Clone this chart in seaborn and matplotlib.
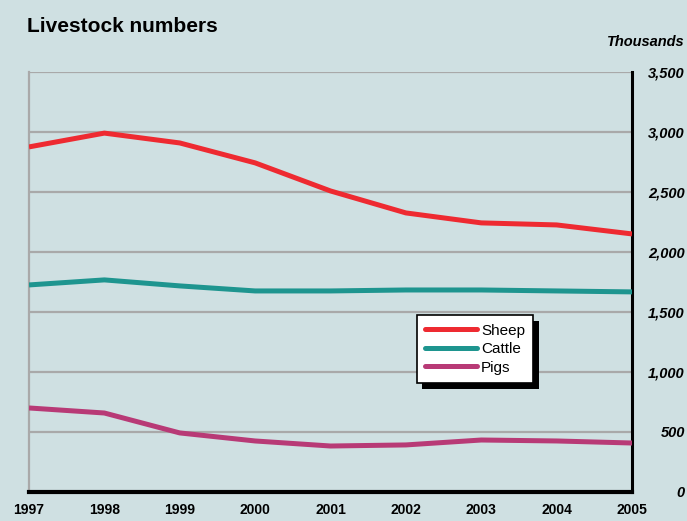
import matplotlib
matplotlib.use("Agg")
import matplotlib.pyplot as plt
import matplotlib.patheffects as pe
from matplotlib.lines import Line2D
import seaborn as sns
import pandas as pd

years = [1997, 1998, 1999, 2000, 2001, 2002, 2003, 2004, 2005]
sheep = [2875, 2990, 2908, 2742, 2508, 2325, 2242, 2225, 2150]
cattle = [1725, 1767, 1717, 1675, 1675, 1683, 1683, 1675, 1667]
pigs = [700, 658, 492, 425, 383, 392, 433, 425, 408]
series_names = ["Sheep", "Cattle", "Pigs"]
colors = ["#ee2a31", "#1e958f", "#b83a76"]
y_ticks = [0, 500, 1000, 1500, 2000, 2500, 3000, 3500]
y_labels = ["0", "500", "1,000", "1,500", "2,000", "2,500", "3,000", "3,500"]

bg = "#cfe0e2"
sns.set_theme(style="white")
plt.rcParams["font.family"] = ["Liberation Sans", "DejaVu Sans"]
plt.rcParams["text.color"] = "black"
plt.rcParams["xtick.color"] = "black"
plt.rcParams["ytick.color"] = "black"

df = pd.DataFrame({
    "year": years * 3,
    "value": sheep + cattle + pigs,
    "series": [s for s in series_names for _ in years],
})

fig = plt.figure(figsize=(6.87, 5.21), dpi=100, facecolor=bg)
ax = fig.add_axes([0.0422, 0.0557, 0.8778, 0.8063])
ax.set_facecolor(bg)

for y in y_ticks[1:]:
    ax.axhline(y, color="#a9a9a9", lw=1.6, zorder=1)

sns.lineplot(data=df, x="year", y="value", hue="series", hue_order=series_names,
             palette=colors, lw=3.6, ax=ax, legend=False, zorder=3,
             solid_capstyle="butt")

ax.set_xlim(1997, 2005)
ax.set_ylim(0, 3500)
ax.set_xlabel("")
ax.set_ylabel("")

ax.spines["top"].set_visible(False)
ax.spines["left"].set_color("#a9a9a9")
ax.spines["left"].set_linewidth(1.6)
ax.spines["right"].set_color("black")
ax.spines["right"].set_linewidth(2.2)
ax.spines["bottom"].set_color("black")
ax.spines["bottom"].set_linewidth(3.0)
ax.spines["bottom"].set_zorder(4)

ax.set_xticks(years)
ax.set_xticklabels([str(y) for y in years], fontsize=10, fontweight="bold")
ax.tick_params(axis="x", direction="out", length=3, width=3, color="black", pad=5)

ax.yaxis.tick_right()
ax.set_yticks(y_ticks)
ax.set_yticklabels(y_labels, fontsize=10.5, fontweight="bold", fontstyle="italic")
ax.tick_params(axis="y", length=0, pad=38)
for lab in ax.get_yticklabels():
    lab.set_horizontalalignment("right")

fig.text(27/687, 1 - 26/521, "Livestock numbers", fontsize=15, fontweight="bold",
         va="center", ha="left", color="black")
fig.text(685/687, 1 - 42/521, "Thousands", fontsize=10.5, fontweight="bold",
         fontstyle="italic", va="center", ha="right", color="black")

handles = [Line2D([0], [0], color=c, lw=3.6) for c in colors]
leg = ax.legend(handles, series_names, loc="upper left",
                bbox_to_anchor=(0.643, 0.421), frameon=True, fancybox=False,
                fontsize=11, handlelength=3.4, handletextpad=0.25,
                labelspacing=0.3, borderpad=0.55, borderaxespad=0)
for t in leg.get_texts():
    t.set_color("black")
frame = leg.get_frame()
frame.set_edgecolor("black")
frame.set_linewidth(1.2)
frame.set_facecolor("white")
frame.set_alpha(1)
leg.set_zorder(6)
frame.set_path_effects([pe.SimplePatchShadow(offset=(4, -4), shadow_rgbFace="black", alpha=1), pe.Normal()])

fig.savefig("out.png", dpi=100, facecolor=bg)
